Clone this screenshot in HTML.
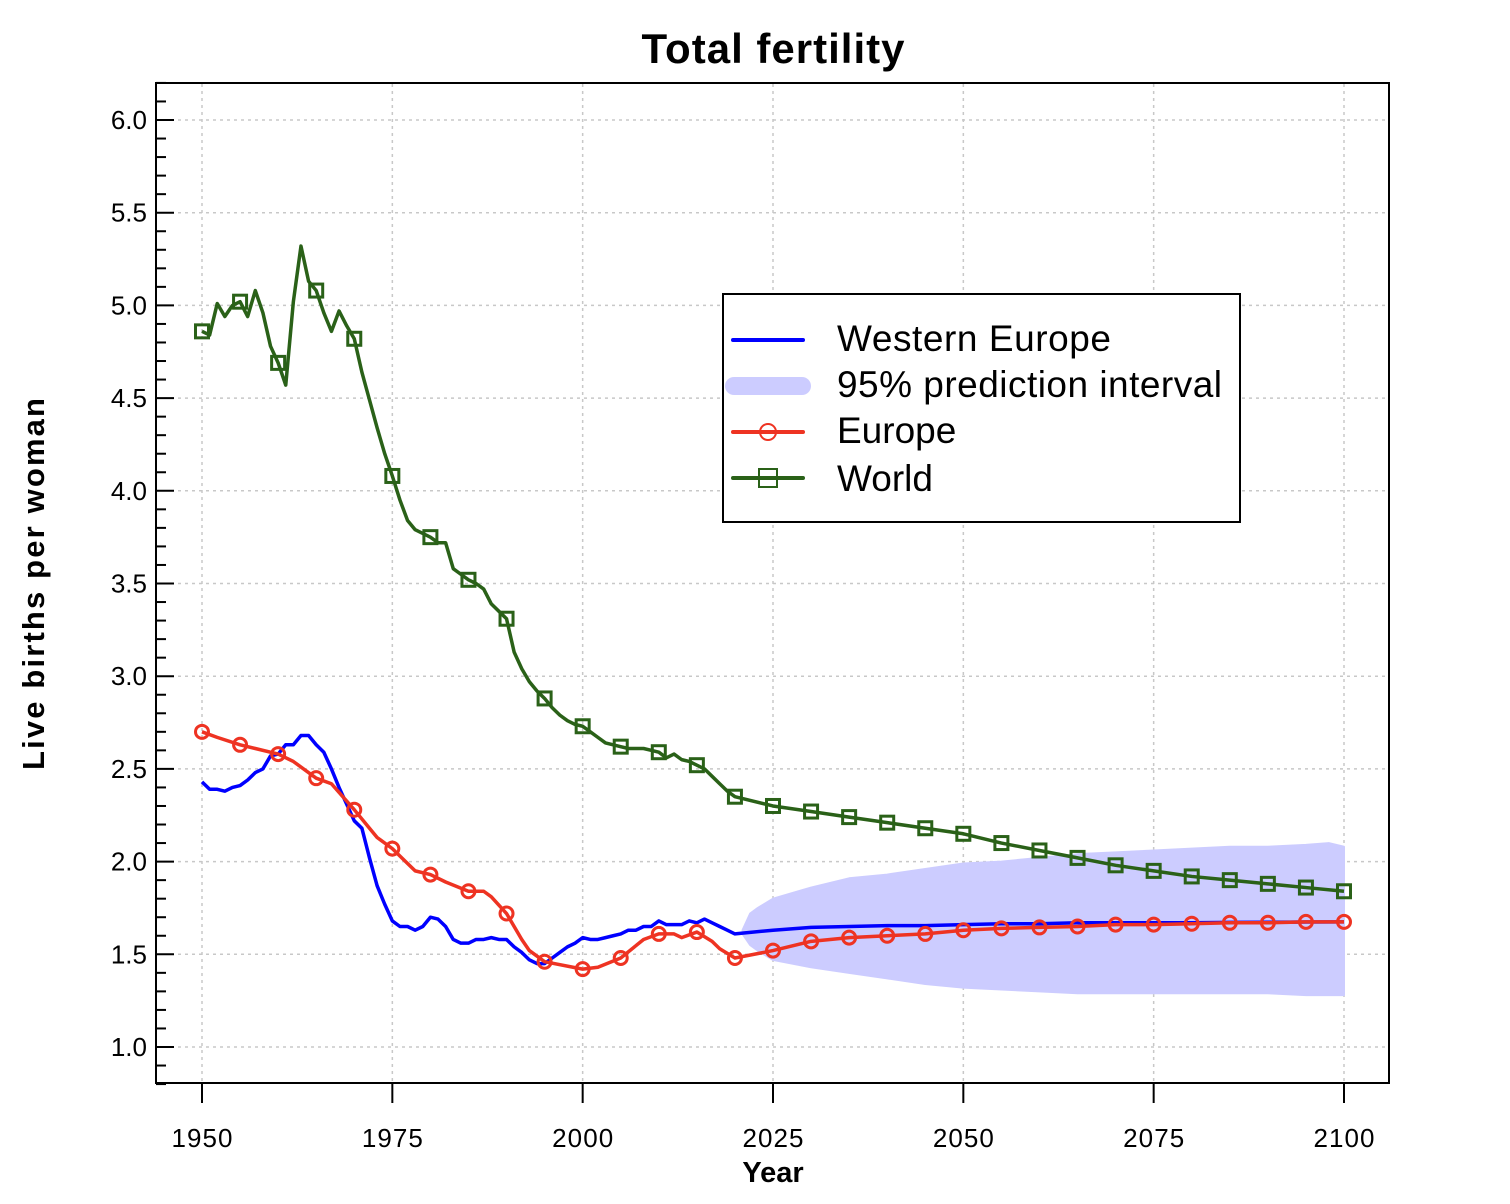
<!DOCTYPE html>
<html><head><meta charset="utf-8"><style>
html,body{margin:0;padding:0;background:#fff;}
svg{display:block;font-family:"Liberation Sans",Arial,sans-serif;}
</style></head><body>
<svg id="chart" width="1510" height="1204" viewBox="0 0 1510 1204">
<text x="773" y="63" text-anchor="middle" font-size="42" font-weight="bold" textLength="263">Total fertility</text>
<text transform="translate(44,584) rotate(-90)" text-anchor="middle" font-size="31" font-weight="bold" textLength="372">Live births per woman</text>
<text x="773" y="1182" text-anchor="middle" font-size="29" font-weight="bold">Year</text>
<g id="grid"></g>
<g id="band"></g>
<g id="series"></g>
<g id="axes"></g>
<g>
<rect x="723" y="294" width="517" height="228" fill="#fff" stroke="#000" stroke-width="2"/>
<line x1="733" y1="340" x2="803" y2="340" stroke="#0000ff" stroke-width="4" stroke-linecap="round"/>
<text x="837" y="351" font-size="37" textLength="274">Western Europe</text>
<line x1="734" y1="386" x2="802" y2="386" stroke="#ccccff" stroke-width="18" stroke-linecap="round"/>
<text x="837" y="397" font-size="37" textLength="385">95% prediction interval</text>
<line x1="733" y1="432" x2="803" y2="432" stroke="#ee3322" stroke-width="4" stroke-linecap="round"/>
<circle cx="768" cy="432" r="8" fill="none" stroke="#ee3322" stroke-width="2"/>
<text x="837" y="443" font-size="37">Europe</text>
<line x1="733" y1="478" x2="803" y2="478" stroke="#2a6118" stroke-width="4" stroke-linecap="round"/>
<rect x="759" y="469" width="18" height="18" fill="none" stroke="#2a6118" stroke-width="2"/>
<text x="837" y="491" font-size="37">World</text>
</g>
</svg>
<script>
const xTicks=[1950,1975,2000,2025,2050,2075,2100];
const yTicks=[1.0,1.5,2.0,2.5,3.0,3.5,4.0,4.5,5.0,5.5,6.0];
const worldYears=[1950,1951,1952,1953,1954,1955,1956,1957,1958,1959,1960,1961,1962,1963,1964,1965,1966,1967,1968,1969,1970,1971,1972,1973,1974,1975,1976,1977,1978,1979,1980,1981,1982,1983,1984,1985,1986,1987,1988,1989,1990,1991,1992,1993,1994,1995,1996,1997,1998,1999,2000,2001,2002,2003,2004,2005,2006,2007,2008,2009,2010,2011,2012,2013,2014,2015,2016,2017,2018,2019,2020,2025,2030,2035,2040,2045,2050,2055,2060,2065,2070,2075,2080,2085,2090,2095,2100];
const worldValues=[4.86,4.84,5.01,4.94,5.00,5.02,4.94,5.08,4.96,4.78,4.69,4.57,5.02,5.32,5.13,5.08,4.96,4.86,4.97,4.89,4.82,4.64,4.49,4.34,4.20,4.08,3.95,3.84,3.79,3.77,3.75,3.72,3.72,3.58,3.55,3.52,3.50,3.47,3.39,3.35,3.31,3.13,3.04,2.97,2.92,2.88,2.83,2.79,2.76,2.74,2.73,2.70,2.67,2.64,2.63,2.62,2.61,2.61,2.61,2.60,2.59,2.56,2.58,2.55,2.54,2.52,2.50,2.46,2.42,2.38,2.35,2.30,2.27,2.24,2.21,2.18,2.15,2.10,2.06,2.02,1.98,1.95,1.92,1.90,1.88,1.86,1.84];
const europeYears=[1950,1952,1955,1957,1960,1962,1965,1967,1970,1972,1973,1975,1977,1978,1980,1982,1985,1987,1988,1990,1992,1993,1995,2000,2002,2005,2008,2010,2012,2013,2015,2017,2018,2020,2025,2030,2035,2040,2045,2050,2055,2060,2065,2070,2075,2080,2085,2090,2095,2100];
const europeValues=[2.70,2.67,2.63,2.61,2.58,2.54,2.45,2.42,2.28,2.18,2.13,2.07,1.99,1.95,1.93,1.89,1.84,1.84,1.81,1.72,1.58,1.52,1.46,1.42,1.43,1.48,1.58,1.61,1.61,1.59,1.62,1.57,1.53,1.48,1.52,1.57,1.59,1.60,1.61,1.63,1.64,1.645,1.65,1.66,1.66,1.665,1.67,1.67,1.675,1.675];
const weYears=[1950,1951,1952,1953,1954,1955,1956,1957,1958,1959,1960,1961,1962,1963,1964,1965,1966,1967,1968,1969,1970,1971,1972,1973,1974,1975,1976,1977,1978,1979,1980,1981,1982,1983,1984,1985,1986,1987,1988,1989,1990,1991,1992,1993,1994,1995,1996,1997,1998,1999,2000,2001,2002,2003,2004,2005,2006,2007,2008,2009,2010,2011,2012,2013,2014,2015,2016,2017,2018,2019,2020,2025,2030,2035,2040,2045,2050,2055,2060,2065,2070,2075,2080,2085,2090,2095,2100];
const weValues=[2.43,2.39,2.39,2.38,2.40,2.41,2.44,2.48,2.50,2.57,2.58,2.63,2.63,2.68,2.68,2.63,2.59,2.50,2.40,2.31,2.22,2.18,2.02,1.87,1.77,1.68,1.65,1.65,1.63,1.65,1.70,1.69,1.65,1.58,1.56,1.56,1.58,1.58,1.59,1.58,1.58,1.54,1.51,1.47,1.45,1.45,1.48,1.51,1.54,1.56,1.59,1.58,1.58,1.59,1.60,1.61,1.63,1.63,1.65,1.65,1.68,1.66,1.66,1.66,1.68,1.67,1.69,1.67,1.65,1.63,1.61,1.63,1.645,1.65,1.655,1.655,1.66,1.665,1.665,1.67,1.67,1.67,1.67,1.672,1.673,1.674,1.675];
const bandYears=[2021,2022,2023,2025,2030,2035,2040,2045,2050,2055,2060,2065,2070,2075,2080,2085,2090,2095,2098,2100];
const bandUpper=[1.63,1.72,1.75,1.80,1.86,1.91,1.93,1.96,1.99,2.00,2.02,2.04,2.05,2.06,2.07,2.08,2.08,2.09,2.10,2.08];
const bandLower=[1.61,1.55,1.52,1.47,1.43,1.40,1.37,1.34,1.32,1.31,1.30,1.29,1.29,1.29,1.29,1.29,1.29,1.28,1.28,1.28];

const NS='http://www.w3.org/2000/svg';
const X=y=>202+(y-1950)*(1142/150);
const Y=v=>1047-(v-1.0)*(927/5);
function mk(tag,attrs,parent){const e=document.createElementNS(NS,tag);for(const k in attrs)e.setAttribute(k,attrs[k]);parent.appendChild(e);return e;}
const grid=document.getElementById('grid'),band=document.getElementById('band'),series=document.getElementById('series'),axes=document.getElementById('axes');

xTicks.forEach(t=>{
  const g=mk('line',{x1:X(t),x2:X(t),y1:84,y2:1083,stroke:'#c8c8c8','stroke-width':1.5,'stroke-dasharray':'3,4'},grid);
  
  
  const tk=mk('line',{x1:X(t),x2:X(t),y1:1084,y2:1103,stroke:'#000','stroke-width':2},axes);
  
  
  const lb=mk('text',{x:X(t),y:1147,'text-anchor':'middle','font-size':26,textLength:61},axes);
  lb.textContent=String(t);
  
  
});
yTicks.forEach(t=>{
  const g=mk('line',{x1:157,x2:1388,y1:Y(t),y2:Y(t),stroke:'#c8c8c8','stroke-width':1.5,'stroke-dasharray':'3,4'},grid);
  
  
  const lb=mk('text',{x:147,y:Y(t)+9,'text-anchor':'end','font-size':26},axes);
  lb.textContent=t.toFixed(1);
  
  
});
for(let i=8;i<=62;i++){
  const v=i/10;const major=(i%5===0);
  const tk=mk('line',{x1:156,x2:major?174:166,y1:Y(v),y2:Y(v),stroke:'#000','stroke-width':2},axes);
  
  
}
const box=mk('rect',{x:156,y:83,width:1233,height:1000,fill:'none',stroke:'#000','stroke-width':2},axes);



let d='';
bandYears.forEach((y,i)=>{d+=(i?'L':'M')+X(y)+','+Y(bandUpper[i]);});
for(let i=bandYears.length-1;i>=0;i--){d+='L'+X(bandYears[i])+','+Y(bandLower[i]);}
const bp=mk('path',{d:d+'Z',fill:'#ccccff',stroke:'#ccccff','stroke-width':2,'stroke-linejoin':'round'},band);



function line(years,vals,color,name){
  const p=mk('path',{d:years.map((y,i)=>(i?'L':'M')+X(y)+','+Y(vals[i])).join(''),fill:'none',stroke:color,'stroke-width':3.5,'stroke-linejoin':'round'},series);
  
  
}
line(weYears,weValues,'#0000ff','western-europe-line');
line(europeYears,europeValues,'#ee3322','europe-line');
line(worldYears,worldValues,'#2a6118','world-line');
europeYears.forEach((y,i)=>{if(y%5===0){
  const c=mk('circle',{cx:X(y),cy:Y(europeValues[i]),r:6.5,fill:'none',stroke:'#ee3322','stroke-width':3},series);
  
  
}});
worldYears.forEach((y,i)=>{if(y%5===0){
  const r=mk('rect',{x:X(y)-6.5,y:Y(worldValues[i])-6.5,width:13,height:13,fill:'none',stroke:'#2a6118','stroke-width':3},series);
  
  
}});
</script>
</body></html>
